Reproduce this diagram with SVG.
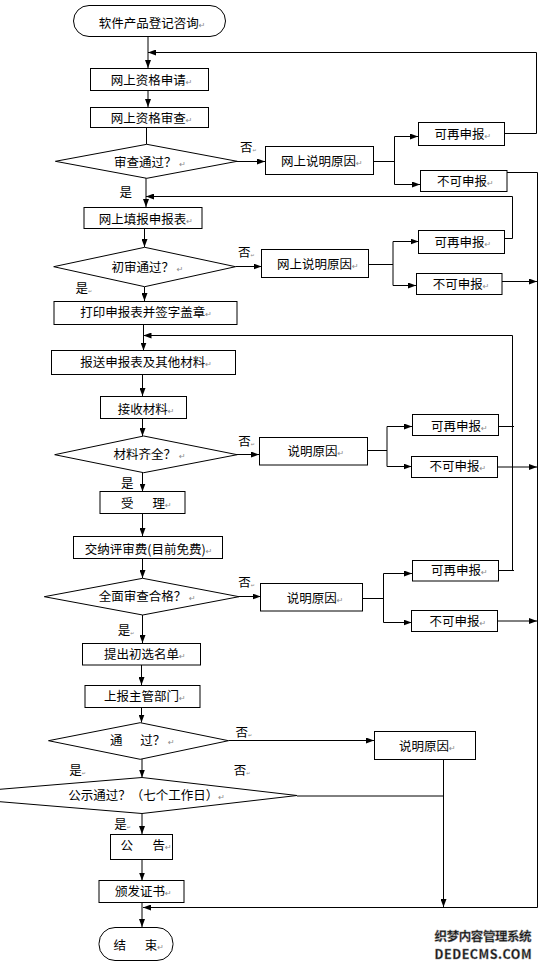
<svg xmlns="http://www.w3.org/2000/svg" width="543" height="966" viewBox="0 0 543 966">
<defs>
<marker id="a" markerUnits="userSpaceOnUse" markerWidth="8" markerHeight="6" refX="8" refY="3" orient="auto"><path d="M0,0 L8,3 L0,6 z" fill="#000"/></marker>
<style>
.n rect,.n polygon{fill:#fff;stroke:#000;stroke-width:1}
text{font-family:"Noto Sans CJK SC","Liberation Sans",sans-serif;font-size:12.5px;fill:#000}
.r{fill:#8a8a8a;font-size:8px;font-family:"DejaVu Sans",sans-serif}
.s{fill:#8a8a8a;font-size:5px;font-family:"DejaVu Sans",sans-serif}
.c line,.c polyline{stroke:#000;stroke-width:1;fill:none}
.m{marker-end:url(#a)}
.w{font-weight:bold;fill:#111;stroke:#888;stroke-width:0.4}
</style>
</defs>
<rect width="543" height="966" fill="#fff"/>
<g class="c">
<line class="m" x1="148" y1="36" x2="148" y2="68"/>
<polyline class="m" points="504.5,133.5 536.5,133.5 536.5,52.5 148,52.5"/>
<line class="m" x1="148" y1="90" x2="148" y2="107"/>
<line x1="146.5" y1="127" x2="146.5" y2="144"/>
<line class="m" x1="237" y1="161.5" x2="265" y2="161.5"/>
<line x1="373" y1="161.5" x2="394.5" y2="161.5"/>
<line x1="394.5" y1="136.5" x2="394.5" y2="184.5"/>
<line class="m" x1="394.5" y1="136.5" x2="418" y2="136.5"/>
<line class="m" x1="394.5" y1="184.5" x2="420" y2="184.5"/>
<polyline class="m" points="507,172.5 537.5,172.5 537.5,907.5 143,907.5"/>
<line class="m" x1="146" y1="178" x2="146" y2="207"/>
<polyline class="m" points="504.5,238.5 512.5,238.5 512.5,196.5 146,196.5"/>
<line class="m" x1="144.5" y1="228" x2="144.5" y2="247"/>
<line class="m" x1="235.5" y1="266.5" x2="261.5" y2="266.5"/>
<line x1="368.5" y1="264.5" x2="393" y2="264.5"/>
<line x1="393" y1="241.5" x2="393" y2="285.5"/>
<line class="m" x1="393" y1="241.5" x2="418.5" y2="241.5"/>
<line class="m" x1="393" y1="285.5" x2="416" y2="285.5"/>
<line class="m" x1="502" y1="281.5" x2="537" y2="281.5"/>
<line class="m" x1="144.5" y1="287" x2="144.5" y2="301"/>
<line class="m" x1="143.5" y1="324" x2="143.5" y2="350.5"/>
<polyline class="m" points="512.5,570.5 512.5,335.5 143.5,335.5"/>
<line x1="498.5" y1="426.5" x2="514" y2="426.5"/>
<line x1="498.5" y1="570.5" x2="514" y2="570.5"/>
<line class="m" x1="142.5" y1="374" x2="142.5" y2="396"/>
<line class="m" x1="142.5" y1="418" x2="142.5" y2="436"/>
<line class="m" x1="237" y1="454.5" x2="259" y2="454.5"/>
<line x1="367.5" y1="450.5" x2="387" y2="450.5"/>
<line x1="387" y1="426.5" x2="387" y2="466.5"/>
<line class="m" x1="387" y1="426.5" x2="412" y2="426.5"/>
<line class="m" x1="387" y1="466.5" x2="411.5" y2="466.5"/>
<line class="m" x1="497.5" y1="467" x2="537" y2="467"/>
<line class="m" x1="142.5" y1="473" x2="142.5" y2="491.5"/>
<line class="m" x1="142.5" y1="513" x2="142.5" y2="536"/>
<line class="m" x1="142.5" y1="558" x2="142.5" y2="578"/>
<line class="m" x1="239" y1="596.5" x2="260.5" y2="596.5"/>
<line x1="362.5" y1="598.5" x2="383.5" y2="598.5"/>
<line x1="383.5" y1="573.5" x2="383.5" y2="622.5"/>
<line class="m" x1="383.5" y1="573.5" x2="412" y2="573.5"/>
<line class="m" x1="383.5" y1="622.5" x2="411.5" y2="622.5"/>
<line class="m" x1="497.5" y1="621" x2="537" y2="621"/>
<line class="m" x1="142.5" y1="615" x2="142.5" y2="643"/>
<line class="m" x1="141.5" y1="665" x2="141.5" y2="685"/>
<line class="m" x1="141.5" y1="707" x2="141.5" y2="722.5"/>
<line class="m" x1="228.5" y1="740.5" x2="374" y2="740.5"/>
<line class="m" x1="443.5" y1="759" x2="443.5" y2="907"/>
<line class="m" x1="142" y1="759" x2="142" y2="777.5"/>
<line x1="297" y1="796" x2="443.5" y2="796"/>
<line class="m" x1="142" y1="813.5" x2="142" y2="834"/>
<line class="m" x1="142" y1="859" x2="142" y2="880.5"/>
<line class="m" x1="142" y1="902" x2="142" y2="927"/>
</g>
<g id="start" class="n"><rect x="73.5" y="5.5" width="152" height="31" rx="15.5"/><text x="98.7" y="27.5">软件产品登记咨询<tspan class="r">↵</tspan></text></g>
<g id="n1" class="n"><rect x="90.5" y="68.5" width="118" height="22"/><text x="110.8" y="84.5">网上资格申请<tspan class="r">↵</tspan></text></g>
<g id="n2" class="n"><rect x="90.5" y="107.5" width="118" height="20"/><text x="110.8" y="122.5">网上资格审查<tspan class="r">↵</tspan></text></g>
<g id="d1" class="n"><polygon points="146.8,144.3 237.2,161.3 146.8,178.3 55.4,161.3"/><text x="114" y="167">审查通过？ <tspan class="r">↵</tspan></text></g>
<g id="l1"><text x="240" y="152">否<tspan class="s">↵</tspan></text></g>
<g id="n3" class="n"><rect x="265.5" y="146.5" width="108" height="28"/><text x="281" y="166">网上说明原因<tspan class="r">↵</tspan></text></g>
<g id="n4" class="n"><rect x="418.5" y="122.5" width="86" height="23"/><text x="434.6" y="138.5">可再申报<tspan class="r">↵</tspan></text></g>
<g id="n5" class="n"><rect x="420.5" y="170.5" width="86.5" height="21"/><text x="437" y="186">不可申报<tspan class="r">↵</tspan></text></g>
<g id="l2"><text x="119.5" y="197">是</text></g>
<g id="n6" class="n"><rect x="84" y="207.5" width="118" height="21"/><text x="98.7" y="223.5">网上填报申报表<tspan class="r">↵</tspan></text></g>
<g id="d2" class="n"><polygon points="144.7,247.3 235.5,266.7 144.7,286.7 53.7,266.7"/><text x="111.5" y="271.8">初审通过？ <tspan class="r">↵</tspan></text></g>
<g id="l3"><text x="238" y="256.5">否<tspan class="s">↵</tspan></text></g>
<g id="n7" class="n"><rect x="261.5" y="249.5" width="107" height="28"/><text x="277" y="268.5">网上说明原因<tspan class="r">↵</tspan></text></g>
<g id="n8" class="n"><rect x="418.5" y="230.5" width="86" height="23"/><text x="434.6" y="246.8">可再申报<tspan class="r">↵</tspan></text></g>
<g id="n9" class="n"><rect x="416.5" y="273.5" width="85.5" height="21"/><text x="432.8" y="288.5">不可申报<tspan class="r">↵</tspan></text></g>
<g id="l4"><text x="75.5" y="293">是<tspan class="s">↵</tspan></text></g>
<g id="n10" class="n"><rect x="54" y="301.5" width="183" height="23"/><text x="80.3" y="317">打印申报表并签字盖章<tspan class="r">↵</tspan></text></g>
<g id="n11" class="n"><rect x="51.5" y="350.5" width="184" height="24"/><text x="80.3" y="367">报送申报表及其他材料<tspan class="r">↵</tspan></text></g>
<g id="n12" class="n"><rect x="100.5" y="396.5" width="86" height="22"/><text x="117.7" y="413.5">接收材料<tspan class="r">↵</tspan></text></g>
<g id="d3" class="n"><polygon points="143.7,436 237.2,454.7 143.7,472.7 54.7,454.7"/><text x="113.6" y="459">材料齐全？ <tspan class="r">↵</tspan></text></g>
<g id="l5"><text x="238.2" y="446">否<tspan class="s">↵</tspan></text></g>
<g id="n13" class="n"><rect x="259.5" y="437.5" width="108" height="27.5"/><text x="287.4" y="456">说明原因<tspan class="r">↵</tspan></text></g>
<g id="n14" class="n"><rect x="412.5" y="414.5" width="86" height="21"/><text x="431" y="430.5">可再申报<tspan class="r">↵</tspan></text></g>
<g id="n15" class="n"><rect x="411.5" y="456.5" width="86" height="21"/><text x="429.4" y="471">不可申报<tspan class="r">↵</tspan></text></g>
<g id="l6"><text x="121" y="487.5">是</text></g>
<g id="n16" class="n"><rect x="100" y="491.5" width="85" height="22"/><text x="121" y="507.8">受<tspan x="152.4">理</tspan><tspan class="r">↵</tspan></text></g>
<g id="n17" class="n"><rect x="73.5" y="536.5" width="149" height="22"/><text x="84.8" y="553.8">交纳评审费(目前免费)<tspan class="r">↵</tspan></text></g>
<g id="d4" class="n"><polygon points="142.7,578.3 239,596.7 142.7,615 44.3,596.7"/><text x="98.7" y="601">全面审查合格？ <tspan class="r">↵</tspan></text></g>
<g id="l7"><text x="238.2" y="586.5">否<tspan class="s">↵</tspan></text></g>
<g id="n18" class="n"><rect x="260.5" y="583.5" width="102" height="27.5"/><text x="286.7" y="602.8">说明原因<tspan class="r">↵</tspan></text></g>
<g id="n19" class="n"><rect x="412.5" y="560.5" width="86" height="20.5"/><text x="431" y="574.5">可再申报<tspan class="r">↵</tspan></text></g>
<g id="n20" class="n"><rect x="411.5" y="610.5" width="86" height="21"/><text x="429.4" y="626">不可申报<tspan class="r">↵</tspan></text></g>
<g id="l8"><text x="117.7" y="634.5">是<tspan class="s">↵</tspan></text></g>
<g id="n21" class="n"><rect x="82.5" y="643.5" width="118" height="21.5"/><text x="103.9" y="658.5">提出初选名单<tspan class="r">↵</tspan></text></g>
<g id="n22" class="n"><rect x="85" y="685.5" width="115" height="22"/><text x="103.9" y="701">上报主管部门<tspan class="r">↵</tspan></text></g>
<g id="d5" class="n"><polygon points="140.2,722.7 228.5,740.7 140.2,759.3 48.5,740.7"/><text x="110" y="745">通<tspan x="140.2">过？</tspan> <tspan class="r">↵</tspan></text></g>
<g id="l9"><text x="235.5" y="736.5">否<tspan class="s">↵</tspan></text></g>
<g id="n23" class="n"><rect x="374.5" y="731.5" width="101" height="28"/><text x="398.9" y="751">说明原因<tspan class="r">↵</tspan></text></g>
<g id="l10"><text x="69.3" y="774.5">是<tspan class="s">↵</tspan></text></g>
<g id="l11"><text x="233.7" y="774.5">否<tspan class="s">↵</tspan></text></g>
<g id="d6" class="n"><polygon points="142,777.5 297,795.5 142,813.5 -75,795.5"/><text x="68.3" y="799.5" font-size="12">公示通过？（七个工作日）<tspan class="r">↵</tspan></text></g>
<g id="l12"><text x="114.3" y="828.5">是<tspan class="s">↵</tspan></text></g>
<g id="n24" class="n"><rect x="110.5" y="834.5" width="62" height="25"/><text x="120.5" y="849.5">公<tspan x="152.4">告</tspan><tspan class="r">↵</tspan></text></g>
<g id="n25" class="n"><rect x="99" y="880.5" width="85" height="22"/><text x="115" y="896">颁发证书<tspan class="r">↵</tspan></text></g>
<g id="end" class="n"><rect x="99" y="927.5" width="74" height="33" rx="16"/><text x="113.6" y="949.5">结<tspan x="144.7">束</tspan><tspan class="r">↵</tspan></text></g>
<g id="watermark"><text class="w" x="434.6" y="941" font-size="10" textLength="97">织梦内容管理系统</text><text class="w" x="434.6" y="958.5" font-size="8.5" textLength="97" font-family="Liberation Mono, monospace">DEDECMS.COM</text></g>
</svg>
